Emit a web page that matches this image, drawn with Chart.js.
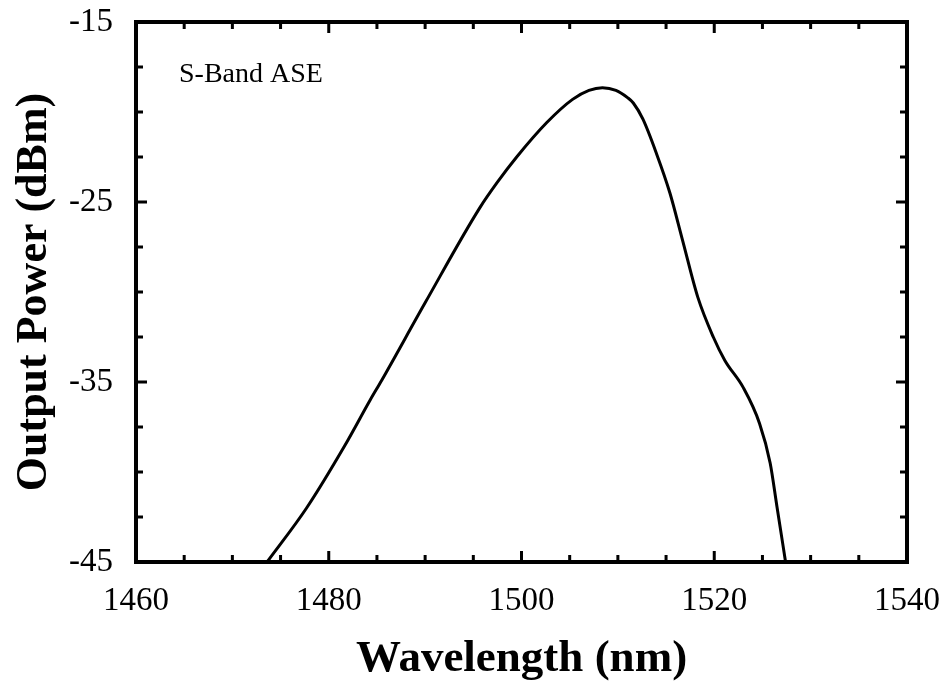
<!DOCTYPE html>
<html>
<head>
<meta charset="utf-8">
<script src="https://cdn.jsdelivr.net/npm/chart.js@4/dist/chart.umd.min.js"></script>
<style>
  html, body { margin: 0; padding: 0; background: #fff; }
  #wrap { width: 949px; height: 690px; }
</style>
</head>
<body>
<div id="wrap"><canvas id="aseChart" width="949" height="690"></canvas></div>
<script>
// S-band ASE spectrum
var wavelength = [1473.6, 1477.7, 1481.7, 1484.3, 1485.5, 1490.0, 1495.7, 1497.5, 1499.5, 1502.6,
                  1505.3, 1507.0, 1508.4, 1509.8, 1511.0, 1511.6, 1512.6, 1514.0, 1515.4, 1516.7,
                  1518.3, 1519.9, 1521.1, 1523.0, 1524.7, 1525.8, 1526.5, 1527.4];
var power = [-45.0, -42.0, -38.5, -36.0, -34.9, -30.6, -25.3, -23.9, -22.5, -20.6,
             -19.3, -18.8, -18.65, -18.8, -19.2, -19.5, -20.4, -22.3, -24.5, -27.1,
             -30.3, -32.5, -33.8, -35.3, -37.3, -39.5, -41.9, -45.0];
var xMajor = [1460, 1480, 1500, 1520, 1540];
var yMajor = [-45, -35, -25, -15];

var serif = "'Liberation Serif', 'Times New Roman', serif";

// draws the frame and inward tick marks on all four sides
var frameTicks = {
    id: 'frameTicks',
    afterDatasetsDraw: function(chart) {
        var ctx = chart.ctx, a = chart.chartArea;
        var xs = chart.scales.x, ys = chart.scales.y;
        ctx.save();
        ctx.strokeStyle = '#000';
        ctx.lineWidth = 3;
        ctx.lineCap = 'butt';
        xs.ticks.forEach(function(t) {
            var px = xs.getPixelForValue(t.value);
            var len = xMajor.indexOf(t.value) >= 0 ? 11 : 7;
            ctx.beginPath();
            ctx.moveTo(px, a.bottom); ctx.lineTo(px, a.bottom - len);
            ctx.moveTo(px, a.top); ctx.lineTo(px, a.top + len);
            ctx.stroke();
        });
        ys.ticks.forEach(function(t) {
            var py = ys.getPixelForValue(t.value);
            var len = yMajor.indexOf(t.value) >= 0 ? 11 : 7;
            ctx.beginPath();
            ctx.moveTo(a.left, py); ctx.lineTo(a.left + len, py);
            ctx.moveTo(a.right, py); ctx.lineTo(a.right - len, py);
            ctx.stroke();
        });
        ctx.lineWidth = 4;
        ctx.strokeRect(a.left, a.top, a.right - a.left, a.bottom - a.top);
        ctx.font = '28px ' + serif;
        ctx.fillStyle = '#000';
        ctx.textBaseline = 'middle';
        ctx.fillText('S-Band ASE', a.left + 43, a.top + 53);
        ctx.restore();
    }
};

new Chart(document.getElementById('aseChart'), {
    type: 'line',
    data: {
        datasets: [{
            data: wavelength.map(function(w, i) { return { x: w, y: power[i] }; }),
            borderColor: '#000',
            borderWidth: 3,
            pointRadius: 0,
            fill: false,
            cubicInterpolationMode: 'monotone'
        }]
    },
    options: {
        responsive: false,
        animation: false,
        layout: { padding: { top: 22, right: 42, left: 0, bottom: 0 } },
        plugins: { legend: { display: false }, tooltip: { enabled: false } },
        scales: {
            x: {
                type: 'linear', min: 1460, max: 1540,
                grid: { display: false },
                border: { display: false },
                afterFit: function(s) { s.height = 128; s.paddingLeft = 0; s.paddingRight = 0; },
                ticks: {
                    stepSize: 5, autoSkip: false, maxRotation: 0, padding: 12,
                    color: '#000', font: { family: serif, size: 33 },
                    callback: function(v) { return xMajor.indexOf(v) >= 0 ? String(v) : ''; }
                },
                title: {
                    display: true, text: 'Wavelength (nm)', color: '#000',
                    font: { family: serif, size: 45, weight: 'bold' },
                    padding: { top: 4 }
                }
            },
            y: {
                type: 'linear', min: -45, max: -15,
                grid: { display: false },
                border: { display: false },
                afterFit: function(s) { s.width = 136; s.paddingTop = 0; s.paddingBottom = 0; },
                ticks: {
                    stepSize: 2.5, autoSkip: false, padding: 15,
                    color: '#000', font: { family: serif, size: 33 },
                    callback: function(v) { return yMajor.indexOf(v) >= 0 ? String(v) : ''; }
                },
                title: {
                    display: true, text: 'Output Power (dBm)', color: '#000',
                    font: { family: serif, size: 44, weight: 'bold' },
                    padding: { top: 8 }
                }
            }
        }
    },
    plugins: [frameTicks]
});
</script>
</body>
</html>
